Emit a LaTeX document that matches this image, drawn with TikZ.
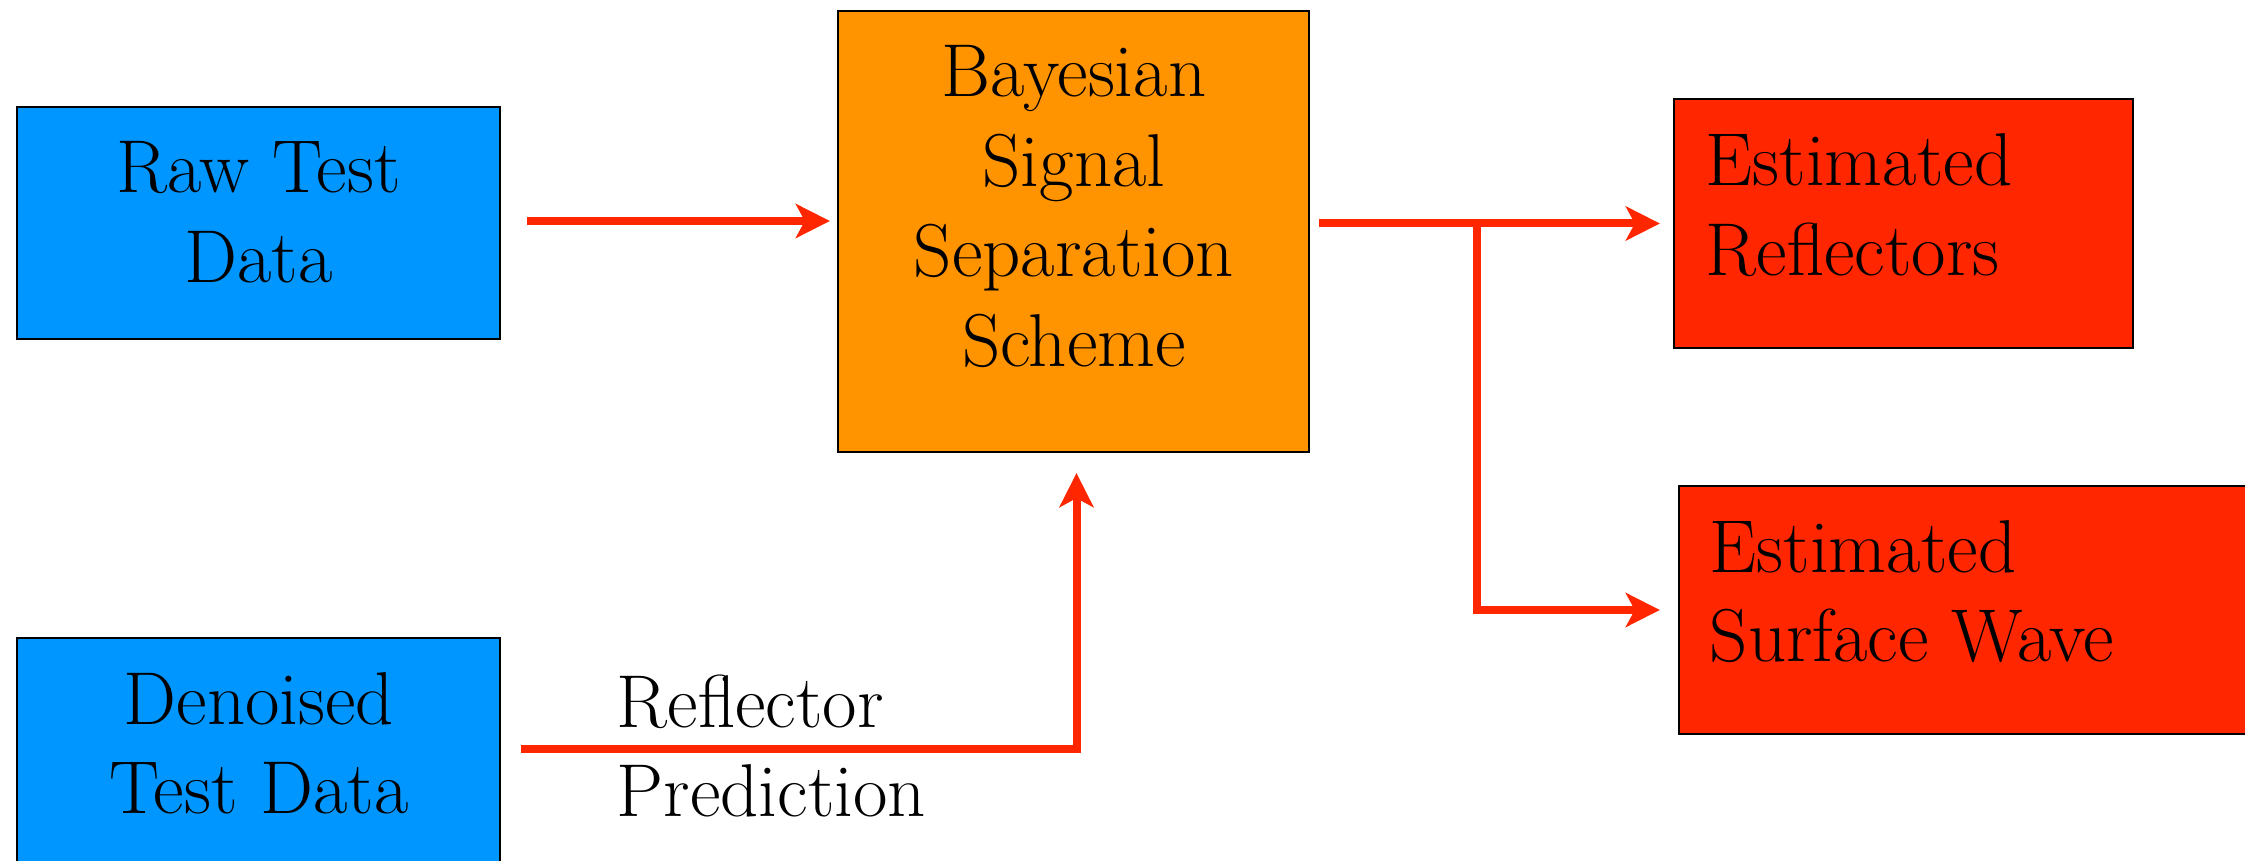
\documentclass[tikz,border=0pt]{standalone}
\usepackage{fontspec}
\usetikzlibrary{arrows.meta,calc}

\definecolor{boxblue}{RGB}{0,150,255}
\definecolor{boxorange}{RGB}{255,147,0}
\definecolor{boxred}{RGB}{255,38,0}
\definecolor{arrowred}{RGB}{255,38,0}

\begin{document}
\begin{tikzpicture}[x=0.01cm,y=-0.01cm,
  box/.style={draw=black, line width=0.6pt, rectangle, inner sep=0pt, outer sep=0pt},
  label text/.style={inner sep=0pt, font=\fontsize{21.3pt}{25.5pt}\selectfont},
  flow/.style={draw=arrowred, line width=0.08cm,
    -{Stealth[length=0.34cm,width=0.34cm,inset=0.09cm]}}]

  \useasboundingbox (0,0) rectangle (2245,861);
  \clip (0,0) rectangle (2245,861);

  % boxes
  \node[box, fill=boxblue, minimum width=4.83cm, minimum height=2.32cm] (raw) at (258.5,223) {};
  \node[box, fill=boxblue, minimum width=4.83cm, minimum height=2.62cm] (den) at (258.5,769) {};
  \node[box, fill=boxorange, minimum width=4.71cm, minimum height=4.41cm] (bayes) at (1073.5,231.5) {};
  \node[box, fill=boxred, minimum width=4.59cm, minimum height=2.49cm] (refl) at (1903.5,223.5) {};
  \node[box, fill=boxred, minimum width=6.01cm, minimum height=2.48cm] (surf) at (1979.5,610) {};

  % box texts
  \node[label text, anchor=base] (rawtext) at (258.5,193)
    {\begin{tabular}[t]{@{}c@{}}Raw Test\\Data\end{tabular}};
  \node[label text, anchor=base] (dentext) at (259,724)
    {\begin{tabular}[t]{@{}c@{}}Denoised\\Test Data\end{tabular}};
  \node[label text, anchor=base] (bayestext) at (1074,97)
    {\begin{tabular}[t]{@{}c@{}}Bayesian\\Signal\\Separation\\Scheme\end{tabular}};
  \node[label text, anchor=base west] (refltext) at (1705,186)
    {\begin{tabular}[t]{@{}l@{}}Estimated\\Reflectors\end{tabular}};
  \node[label text, anchor=base west] (surftext) at (1709,572)
    {\begin{tabular}[t]{@{}l@{}}Estimated\\Surface Wave\end{tabular}};
  \node[label text, anchor=base west] (predtext) at (616,727)
    {\begin{tabular}[t]{@{}l@{}}Reflector\\Prediction\end{tabular}};

  % connectors
  \draw[flow] ($(raw.east)+(27,-2)$) -- ($(raw.east -| bayes.west)+(-8,-2)$);

  \coordinate (out) at (bayes.east |- refl.west);
  \coordinate (split) at ($(out)+(168,0)$);
  \draw[flow] ($(out)+(10,0)$) -- ($(refl.west)+(-14,0)$);
  \draw[flow] (split) -- (split |- surf.west) -- ($(surf.west)+(-19,0)$);

  \coordinate (bend) at ($(bayes.south)+(3,296.5)$);
  \coordinate (pstart) at (den.east |- bend);
  \draw[flow] ($(pstart)+(21,0)$) -| ($(bayes.south)+(3,21)$);
\end{tikzpicture}
\end{document}
